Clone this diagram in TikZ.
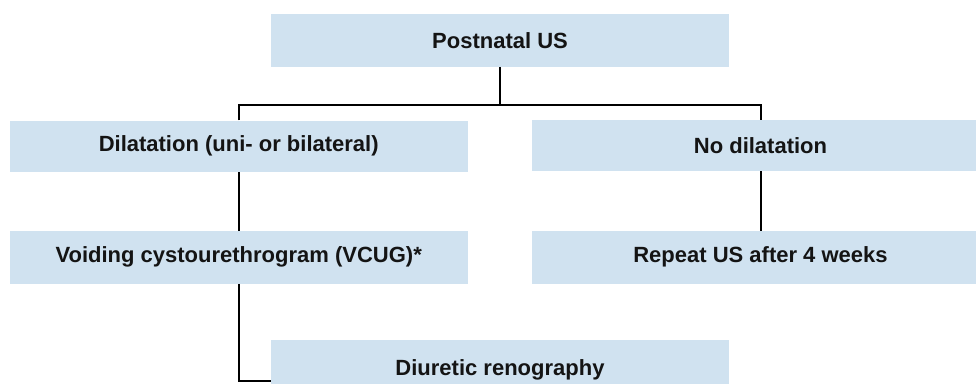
\documentclass[tikz,border=0pt]{standalone}
\usepackage{fontspec}
\setmainfont{Liberation Sans}
\definecolor{boxfill}{RGB}{208,226,240}
\definecolor{txt}{RGB}{20,20,20}
\begin{document}
\begin{tikzpicture}[x=1pt,y=-1pt,
  box/.style={rectangle,fill=boxfill,draw=none,inner sep=0pt,minimum width=458pt,
    font=\fontsize{22}{26}\selectfont\bfseries,text=txt},
  conn/.style={line width=2pt,black}]
\clip (0,0) rectangle (976,383);
\node[box,minimum height=52.7pt] (top) at (500,40.3) {Postnatal US};
\node[box,minimum height=51.3pt] (dil) at (238.7,146.3) {Dilatation (uni- or bilateral)};
\node[box,minimum height=51pt] (nodil) at (760.5,145.5) {No dilatation};
\node[box,minimum height=52.7pt] (vcug) at (238.7,257.3) {Voiding cystourethrogram (VCUG)*};
\node[box,minimum height=52.7pt] (rep) at (760.5,257.3) {Repeat US after 4 weeks};
\node[box,minimum height=60pt] (diu) at (500,370) {Diuretic renography};
\coordinate (j) at (500,105.3);
\coordinate (k) at (271,380.5);
\draw[conn] (top.south) -- (j);
\draw[conn] (dil.north) |- (j) -| (nodil.north);
\draw[conn] (dil.south) -- (vcug.north);
\draw[conn] (nodil.south) -- (rep.north);
\draw[conn] (vcug.south) |- (k);
\end{tikzpicture}
\end{document}
